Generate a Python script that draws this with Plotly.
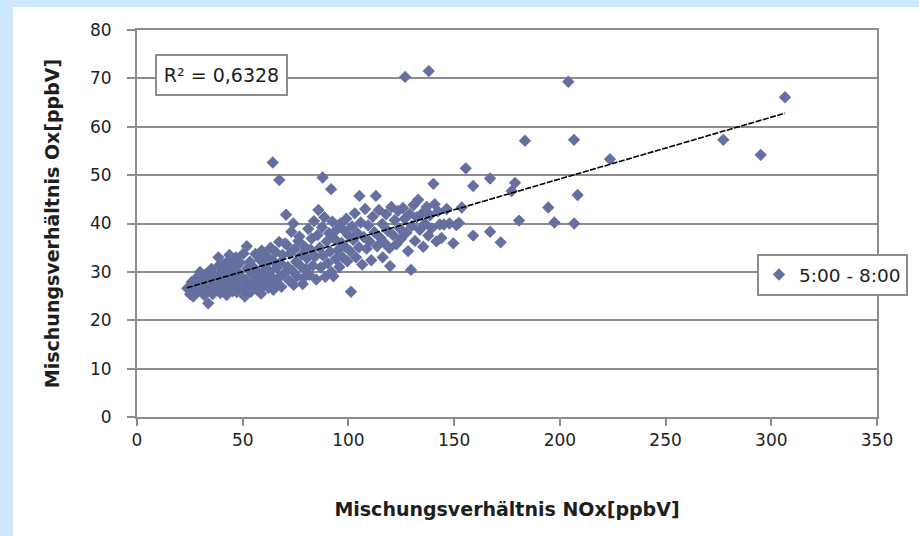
import plotly.graph_objects as go

# ---- data ----
nox = [
    23.8, 25.1, 25.9, 26.6, 27.3, 28.0, 28.6, 29.4, 29.8, 30.5, 31.2, 31.8, 32.4, 33.0, 33.7, 33.9, 34.5, 35.2, 35.8, 36.3,
    36.9, 38.5, 37.9, 38.4, 38.8, 39.5, 39.9, 40.2,
    40.8, 41.3, 41.9, 42.4, 42.8, 43.4, 43.7, 44.1, 44.6, 45.2, 45.7, 46.3, 46.8, 47.2, 47.7, 48.3, 48.8, 49.4, 49.9, 50.4,
    51.0, 51.3, 51.9, 52.2, 52.8, 53.4, 53.9, 54.4, 54.9, 55.5, 56.0, 56.6, 57.1, 57.6, 58.2, 58.7, 59.0, 59.4, 59.9,
    60.5, 61.0, 61.6, 62.1, 62.6, 63.2, 63.7, 64.3, 64.5, 65.0, 65.6, 66.1, 66.7, 67.2, 67.8, 68.3, 68.9, 69.4, 70.0, 70.8,
    71.3, 71.9, 72.4, 73.0, 73.5, 74.1, 74.6, 75.2, 75.7, 76.3, 76.8, 77.4, 77.9, 78.4, 78.7, 79.3, 79.8,
    80.4, 81.0, 81.5, 82.1, 82.6, 83.2, 83.7, 84.3, 84.8, 85.4, 85.8, 86.4, 86.9, 87.5, 88.0, 88.6, 89.1, 89.7, 90.2, 90.8,
    91.3, 91.9, 92.4, 92.9, 93.5, 94.0, 94.6, 95.1, 95.7, 96.2, 96.8, 97.3, 97.9, 98.4, 99.0, 99.5, 100.1,
    101.2, 100.8, 101.7, 102.3, 103.0, 103.6, 104.3, 105.0, 105.2, 105.8, 106.5, 107.2, 107.9, 108.6, 109.3, 110.0, 110.8,
    111.5, 112.3, 113.0, 113.6, 114.4, 115.2, 116.0, 116.2, 117.0, 117.8, 118.6, 119.4, 119.7, 120.3, 121.1, 121.9, 122.7,
    123.5, 124.2, 125.0, 125.8, 126.6, 127.4, 128.2, 129.0, 129.6, 130.0,
    130.8, 131.5, 132.3, 133.0, 133.8, 134.6, 135.4, 136.2, 137.0, 137.8, 138.6, 139.4, 140.2, 140.8, 141.6, 142.4, 143.2,
    144.0, 145.2, 146.5, 147.8, 149.6, 151.0, 152.3, 153.6, 155.5,
    159.0, 167.0, 178.8, 177.2, 208.4, 194.5, 180.7, 197.4, 206.8, 159.0, 167.0, 172.0, 183.5, 206.7, 223.7, 204.0,
    306.5, 277.3, 295.0, 126.8, 138.0, 64.2, 67.3, 87.8, 91.8, 70.5, 73.9,
]
ox = [
    26.6, 25.4, 27.9, 24.9, 26.8, 28.7, 25.8, 27.4, 30.0, 26.3, 28.9, 25.2, 27.8, 29.7, 23.5, 26.5, 28.2, 30.6, 25.4, 27.3,
    29.1, 33.0, 26.2, 31.2, 28.0, 25.6, 29.8, 27.1,
    31.5, 26.4, 28.6, 25.2, 30.3, 32.4, 33.5, 27.5, 29.4, 26.0, 31.1, 28.2, 33.0, 25.8, 30.0, 27.0, 31.9, 29.0, 26.4, 33.8,
    24.9, 28.3, 35.3, 30.7, 27.3, 32.1, 25.9, 29.5, 31.0, 27.8, 33.7, 26.4, 30.1, 28.6, 32.5, 25.5, 34.4, 29.8, 27.2,
    31.4, 28.3, 33.2, 26.7, 30.2, 35.0, 29.0, 32.3, 26.3, 27.9, 34.1, 30.8, 28.6, 36.2, 31.9, 26.9, 33.5, 29.6, 35.9, 35.6,
    31.0, 28.2, 33.8, 38.3, 30.2, 27.3, 34.7, 32.1, 29.1, 36.4, 37.3, 31.2, 33.5, 27.5, 28.7, 35.2, 30.6,
    32.8, 38.9, 29.4, 34.6, 36.9, 31.3, 40.5, 33.2, 28.4, 37.6, 42.8, 35.0, 30.9, 39.2, 33.4, 41.3, 29.0, 36.3, 31.8, 38.0,
    34.2, 30.0, 40.4, 29.1, 36.8, 32.7, 38.8, 34.5, 31.0, 40.0, 36.0, 33.0, 38.6, 35.2, 41.0, 32.2, 37.5,
    25.9, 34.3, 39.4, 36.6, 42.1, 33.0, 38.0, 35.1, 45.7, 40.2, 31.5, 37.2, 43.0, 34.8, 39.6, 36.3, 32.4,
    41.4, 38.2, 45.7, 35.3, 42.8, 37.0, 39.9, 33.0, 36.0, 41.9, 38.5, 34.9, 31.2, 43.4, 37.6, 40.7, 35.7,
    42.6, 39.0, 36.9, 43.2, 41.0, 38.1, 34.3, 42.0, 30.4, 39.5,
    43.8, 36.4, 41.3, 44.9, 38.7, 42.0, 35.2, 40.0, 43.4, 37.5, 41.7, 39.0, 48.2, 44.0, 36.3, 42.5, 39.8,
    37.0, 39.8, 43.0, 40.0, 35.9, 39.7, 40.1, 43.3, 51.4,
    47.75, 49.3, 48.4, 46.7, 45.9, 43.3, 40.6, 40.2, 40.0, 37.5, 38.3, 36.1, 57.1, 57.3, 53.3, 69.3,
    66.1, 57.3, 54.2, 70.3, 71.5, 52.6, 49.0, 49.5, 47.1, 41.8, 40.0,
]
trend_x = [23.6, 306.5]
trend_y = [26.7, 62.8]
series_name = "5:00 - 8:00"
r2_label = "R² = 0,6328"
x_title = "Mischungsverhältnis NOx[ppbV]"
y_title = "Mischungsverhältnis Ox[ppbV]"
x_ticks = [0, 50, 100, 150, 200, 250, 300, 350]
y_ticks = [0, 10, 20, 30, 40, 50, 60, 70, 80]

W, H = 919, 536
L, R, T, B = 137, 42, 30, 119
pw, ph = W - L - R, H - T - B

def px_x(p):
    return (p - L) / pw

def px_y(p):
    return (H - B - p) / ph

FONT = "DejaVu Sans"
TXT = "#1e1e1e"
GRID = "#8c8c8c"
MARK = "#6670A0"

fig = go.Figure()
fig.add_trace(go.Scatter(
    x=nox, y=ox, mode="markers", name=series_name,
    marker=dict(symbol="diamond", size=9.5, color=MARK, line=dict(width=0)),
))
fig.add_trace(go.Scatter(
    x=trend_x, y=trend_y, mode="lines", showlegend=False,
    line=dict(color="black", width=1.6, dash="6px,1.5px"),
))

fig.update_layout(
    width=W, height=H,
    margin=dict(l=L, r=R, t=T, b=B, autoexpand=False),
    paper_bgcolor="#CDE8FC",
    plot_bgcolor="white",
    font=dict(family=FONT, size=17, color=TXT),
    showlegend=True,
    legend=dict(
        x=px_x(757), y=px_y(254), xanchor="left", yanchor="top",
        bgcolor="white", bordercolor=GRID, borderwidth=2,
        font=dict(family=FONT, size=18.5, color=TXT),
    ),
    shapes=[dict(
        type="rect", xref="paper", yref="paper", layer="below",
        x0=px_x(13), x1=px_x(W + 5), y0=px_y(H + 5), y1=px_y(7),
        fillcolor="white", line=dict(width=0),
    )],
    annotations=[dict(
        text=r2_label, xref="paper", yref="paper",
        x=px_x(221.5), y=px_y(75), xanchor="center", yanchor="middle",
        showarrow=False, bgcolor="white", bordercolor=GRID, borderwidth=2,
        width=127, height=36, borderpad=1,
        font=dict(family=FONT, size=19, color=TXT),
    )],
)
fig.update_xaxes(
    range=[0, 350], tickvals=x_ticks, showgrid=False, zeroline=False,
    showline=True, linecolor=GRID, linewidth=2, mirror=True,
    ticks="outside", ticklen=7, tickwidth=2, tickcolor=GRID,
    tickfont=dict(family=FONT, size=17, color=TXT),
    title=dict(text=x_title, font=dict(family=FONT, size=19, color=TXT, weight="bold"), standoff=53),
)
fig.update_yaxes(
    range=[0, 80], tickvals=y_ticks, showgrid=True, gridcolor=GRID, gridwidth=2, zeroline=False,
    showline=True, linecolor=GRID, linewidth=2, mirror=True,
    ticks="outside", ticklen=8, tickwidth=2, tickcolor=GRID, ticklabelstandoff=12,
    tickfont=dict(family=FONT, size=17, color=TXT),
    title=dict(text=y_title, font=dict(family=FONT, size=19, color=TXT, weight="bold"), standoff=25),
)

fig.write_html("out.html")
